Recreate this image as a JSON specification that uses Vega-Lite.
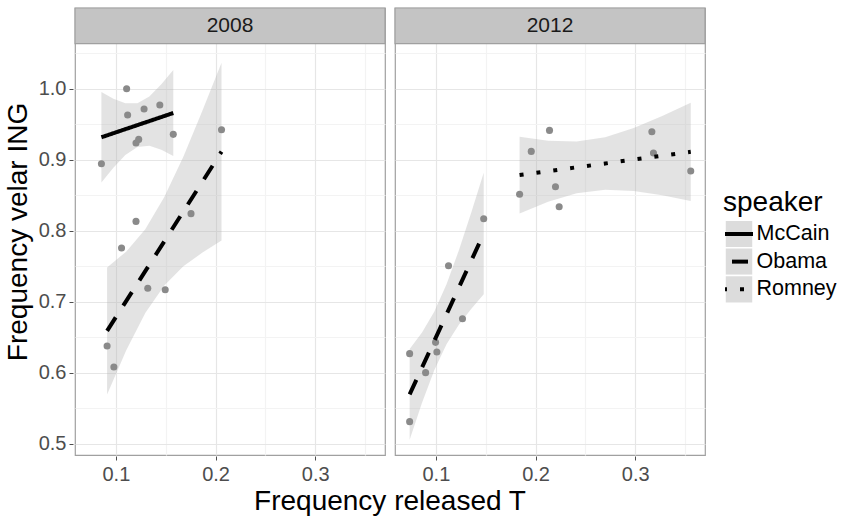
{
  "$schema": "https://vega.github.io/schema/vega-lite/v6.json",
  "padding": {"left": 4, "top": 6, "right": 0, "bottom": 0},
  "center": true,
  "spacing": 16,
  "config": {
    "font": "Liberation Sans",
    "view": {"stroke": "#a0a0a0", "strokeWidth": 1.2},
    "axis": {
      "labelFontSize": 20, "titleFontSize": 28, "titleFontWeight": "normal",
      "labelColor": "#4d4d4d", "titleColor": "#000000", "tickColor": "#4d4d4d",
      "tickSize": 4, "domain": false, "labelFont": "Liberation Sans", "titleFont": "Liberation Sans"
    }
  },
  "hconcat": [
    {
      "data": {"values": [
        {"year": "2008", "kind": "strip"},
        {"year": "2012", "kind": "strip"},
        {"year": "2008", "speaker": "McCain", "kind": "point", "x": 0.0855, "y": 0.8944},
        {"year": "2008", "speaker": "McCain", "kind": "point", "x": 0.1108, "y": 1.0},
        {"year": "2008", "speaker": "McCain", "kind": "point", "x": 0.1118, "y": 0.9629},
        {"year": "2008", "speaker": "McCain", "kind": "point", "x": 0.1283, "y": 0.9714},
        {"year": "2008", "speaker": "McCain", "kind": "point", "x": 0.1441, "y": 0.977},
        {"year": "2008", "speaker": "McCain", "kind": "point", "x": 0.1202, "y": 0.9235},
        {"year": "2008", "speaker": "McCain", "kind": "point", "x": 0.1229, "y": 0.9286},
        {"year": "2008", "speaker": "McCain", "kind": "point", "x": 0.1576, "y": 0.9357},
        {"year": "2008", "speaker": "Obama", "kind": "point", "x": 0.1057, "y": 0.7756},
        {"year": "2008", "speaker": "Obama", "kind": "point", "x": 0.1202, "y": 0.8131},
        {"year": "2008", "speaker": "Obama", "kind": "point", "x": 0.132, "y": 0.7188},
        {"year": "2008", "speaker": "Obama", "kind": "point", "x": 0.1495, "y": 0.7169},
        {"year": "2008", "speaker": "Obama", "kind": "point", "x": 0.0912, "y": 0.6376},
        {"year": "2008", "speaker": "Obama", "kind": "point", "x": 0.098, "y": 0.608},
        {"year": "2008", "speaker": "Obama", "kind": "point", "x": 0.1754, "y": 0.824},
        {"year": "2008", "speaker": "Obama", "kind": "point", "x": 0.206, "y": 0.9423},
        {"year": "2012", "speaker": "Obama", "kind": "point", "x": 0.0737, "y": 0.6268},
        {"year": "2012", "speaker": "Obama", "kind": "point", "x": 0.0737, "y": 0.531},
        {"year": "2012", "speaker": "Obama", "kind": "point", "x": 0.0897, "y": 0.6},
        {"year": "2012", "speaker": "Obama", "kind": "point", "x": 0.0997, "y": 0.6427},
        {"year": "2012", "speaker": "Obama", "kind": "point", "x": 0.101, "y": 0.6291},
        {"year": "2012", "speaker": "Obama", "kind": "point", "x": 0.1127, "y": 0.7507},
        {"year": "2012", "speaker": "Obama", "kind": "point", "x": 0.1267, "y": 0.676},
        {"year": "2012", "speaker": "Obama", "kind": "point", "x": 0.148, "y": 0.8169},
        {"year": "2012", "speaker": "Romney", "kind": "point", "x": 0.184, "y": 0.8512},
        {"year": "2012", "speaker": "Romney", "kind": "point", "x": 0.1957, "y": 0.9117},
        {"year": "2012", "speaker": "Romney", "kind": "point", "x": 0.214, "y": 0.9413},
        {"year": "2012", "speaker": "Romney", "kind": "point", "x": 0.22, "y": 0.862},
        {"year": "2012", "speaker": "Romney", "kind": "point", "x": 0.2237, "y": 0.8338},
        {"year": "2012", "speaker": "Romney", "kind": "point", "x": 0.3167, "y": 0.9394},
        {"year": "2012", "speaker": "Romney", "kind": "point", "x": 0.3183, "y": 0.9094},
        {"year": "2012", "speaker": "Romney", "kind": "point", "x": 0.3557, "y": 0.884},
        {"year": "2008", "speaker": "McCain", "kind": "fit", "x": 0.0855, "y": 0.9316, "lo": 0.868, "hi": 0.9952},
        {"year": "2008", "speaker": "McCain", "kind": "fit", "x": 0.0975, "y": 0.9373, "lo": 0.8887, "hi": 0.9859},
        {"year": "2008", "speaker": "McCain", "kind": "fit", "x": 0.1095, "y": 0.943, "lo": 0.9065, "hi": 0.9795},
        {"year": "2008", "speaker": "McCain", "kind": "fit", "x": 0.1216, "y": 0.9487, "lo": 0.9179, "hi": 0.9795},
        {"year": "2008", "speaker": "McCain", "kind": "fit", "x": 0.1336, "y": 0.9544, "lo": 0.9196, "hi": 0.9892},
        {"year": "2008", "speaker": "McCain", "kind": "fit", "x": 0.1456, "y": 0.9601, "lo": 0.914, "hi": 1.0062},
        {"year": "2008", "speaker": "McCain", "kind": "fit", "x": 0.1576, "y": 0.9658, "lo": 0.9051, "hi": 1.0265},
        {"year": "2008", "speaker": "Obama", "kind": "fit", "x": 0.0912, "y": 0.6588, "lo": 0.5693, "hi": 0.7483},
        {"year": "2008", "speaker": "Obama", "kind": "fit", "x": 0.1103, "y": 0.7008, "lo": 0.6311, "hi": 0.7705},
        {"year": "2008", "speaker": "Obama", "kind": "fit", "x": 0.1295, "y": 0.743, "lo": 0.684, "hi": 0.802},
        {"year": "2008", "speaker": "Obama", "kind": "fit", "x": 0.1486, "y": 0.785, "lo": 0.7227, "hi": 0.8473},
        {"year": "2008", "speaker": "Obama", "kind": "fit", "x": 0.1677, "y": 0.827, "lo": 0.7498, "hi": 0.9042},
        {"year": "2008", "speaker": "Obama", "kind": "fit", "x": 0.1869, "y": 0.8692, "lo": 0.7692, "hi": 0.9692},
        {"year": "2008", "speaker": "Obama", "kind": "fit", "x": 0.206, "y": 0.9113, "lo": 0.786, "hi": 1.0366},
        {"year": "2012", "speaker": "Obama", "kind": "fit", "x": 0.0737, "y": 0.5694, "lo": 0.5055, "hi": 0.6333},
        {"year": "2012", "speaker": "Obama", "kind": "fit", "x": 0.0861, "y": 0.6072, "lo": 0.5577, "hi": 0.6567},
        {"year": "2012", "speaker": "Obama", "kind": "fit", "x": 0.0985, "y": 0.645, "lo": 0.6039, "hi": 0.6861},
        {"year": "2012", "speaker": "Obama", "kind": "fit", "x": 0.1108, "y": 0.6825, "lo": 0.6402, "hi": 0.7248},
        {"year": "2012", "speaker": "Obama", "kind": "fit", "x": 0.1232, "y": 0.7203, "lo": 0.6677, "hi": 0.7729},
        {"year": "2012", "speaker": "Obama", "kind": "fit", "x": 0.1356, "y": 0.7581, "lo": 0.6902, "hi": 0.826},
        {"year": "2012", "speaker": "Obama", "kind": "fit", "x": 0.148, "y": 0.7959, "lo": 0.7103, "hi": 0.8815},
        {"year": "2012", "speaker": "Romney", "kind": "fit", "x": 0.184, "y": 0.8783, "lo": 0.8243, "hi": 0.9323},
        {"year": "2012", "speaker": "Romney", "kind": "fit", "x": 0.2126, "y": 0.8838, "lo": 0.8408, "hi": 0.9268},
        {"year": "2012", "speaker": "Romney", "kind": "fit", "x": 0.2412, "y": 0.8893, "lo": 0.8528, "hi": 0.9258},
        {"year": "2012", "speaker": "Romney", "kind": "fit", "x": 0.2699, "y": 0.8947, "lo": 0.8577, "hi": 0.9317},
        {"year": "2012", "speaker": "Romney", "kind": "fit", "x": 0.2985, "y": 0.9002, "lo": 0.8559, "hi": 0.9445},
        {"year": "2012", "speaker": "Romney", "kind": "fit", "x": 0.3271, "y": 0.9056, "lo": 0.8498, "hi": 0.9614},
        {"year": "2012", "speaker": "Romney", "kind": "fit", "x": 0.3557, "y": 0.9111, "lo": 0.8418, "hi": 0.9804}
      ]},
      "facet": {"column": {
        "field": "year", "type": "nominal", "title": "Frequency released T",
        "header": {"labels": false, "titleOrient": "bottom", "titleFontSize": 28, "titleFontWeight": "normal", "titleColor": "#000000", "titleFont": "Liberation Sans", "titlePadding": -6}
      }},
      "spacing": {"column": 6},
      "spec": {
        "width": 310,
        "height": 447,
        "layer": [
          {
            "transform": [{"filter": "datum.kind == 'fit'"}],
            "mark": {"type": "area", "fill": "#b0b0b0", "opacity": 0.35},
            "encoding": {
              "x": {
                "field": "x", "type": "quantitative",
                "scale": {"domain": [0.059, 0.37], "nice": false, "zero": false},
                "axis": {
                  "title": null,
                  "values": [0.1, 0.15, 0.2, 0.25, 0.3, 0.35],
                  "labelExpr": "round(datum.value*100) % 10 == 0 ? format(datum.value, '.1f') : ''",
                  "tickOpacity": {"condition": {"test": "round(datum.value*100) % 10 != 0", "value": 0}, "value": 1},
                  "gridColor": {"condition": {"test": "round(datum.value*100) % 10 != 0", "value": "#f3f3f3"}, "value": "#e6e6e6"},
                  "gridWidth": 1.2,
                  "labelPadding": 4
                }
              },
              "y": {
                "field": "lo", "type": "quantitative",
                "scale": {"domain": [0.484, 1.1137], "nice": false, "zero": false},
                "axis": {
                  "title": "Frequency velar ING",
                  "values": [0.5, 0.55, 0.6, 0.65, 0.7, 0.75, 0.8, 0.85, 0.9, 0.95, 1.0, 1.05],
                  "labelExpr": "round(datum.value*100) % 10 == 0 ? format(datum.value, '.1f') : ''",
                  "tickOpacity": {"condition": {"test": "round(datum.value*100) % 10 != 0", "value": 0}, "value": 1},
                  "gridColor": {"condition": {"test": "round(datum.value*100) % 10 != 0", "value": "#f3f3f3"}, "value": "#e6e6e6"},
                  "gridWidth": 1.2,
                  "labelPadding": 3,
                  "titlePadding": 6
                }
              },
              "y2": {"field": "hi"},
              "detail": {"field": "speaker"}
            }
          },
          {
            "transform": [{"filter": "datum.kind == 'point'"}],
            "mark": {"type": "circle", "color": "#8a8a8a", "size": 50, "opacity": 1},
            "encoding": {
              "x": {"field": "x", "type": "quantitative"},
              "y": {"field": "y", "type": "quantitative"}
            }
          },
          {
            "transform": [{"filter": "datum.kind == 'fit'"}],
            "mark": {"type": "line", "color": "#000000", "strokeWidth": 4, "strokeCap": "butt"},
            "encoding": {
              "x": {"field": "x", "type": "quantitative"},
              "y": {"field": "y", "type": "quantitative"},
              "strokeDash": {
                "field": "speaker", "type": "nominal",
                "scale": {"domain": ["McCain", "Obama", "Romney"], "range": [[1, 0], [16, 14], [4, 13]]},
                "legend": null
              }
            }
          },
          {
            "transform": [{"filter": "datum.kind == 'strip'"}],
            "mark": {"type": "rect", "fill": "#c4c4c4", "stroke": "#a0a0a0", "strokeWidth": 1.2},
            "encoding": {"y": {"datum": 1.0634}, "y2": {"datum": 1.1137}}
          },
          {
            "transform": [{"filter": "datum.kind == 'strip'"}],
            "mark": {"type": "text", "fontSize": 21, "color": "#1a1a1a", "baseline": "middle", "align": "center"},
            "encoding": {"y": {"datum": 1.0885}, "text": {"field": "year"}}
          }
        ]
      }
    },
    {
      "data": {"values": [
        {"speaker": "McCain"},
        {"speaker": "Obama"},
        {"speaker": "Romney"}
      ]},
      "width": 28,
      "height": 83,
      "view": {"stroke": null},
      "title": {"text": "speaker", "anchor": "start", "fontSize": 28, "fontWeight": "normal", "color": "#000000", "offset": 2, "font": "Liberation Sans"},
      "encoding": {
        "y": {
          "field": "speaker", "type": "nominal",
          "scale": {"domain": ["McCain", "Obama", "Romney"], "paddingInner": 0, "paddingOuter": 0},
          "axis": {"orient": "right", "title": null, "ticks": false, "domain": false, "grid": false, "labelPadding": 3, "labelColor": "#000000", "labelFontSize": 21.5}
        }
      },
      "layer": [
        {
          "mark": {"type": "rect", "fill": "#dcdcdc", "stroke": "#ffffff", "strokeWidth": 1.5}
        },
        {
          "mark": {"type": "rule", "color": "#000000", "strokeWidth": 4, "strokeCap": "butt", "strokeDashOffset": 25},
          "encoding": {
            "y": {"field": "speaker", "type": "nominal", "bandPosition": 0.5},
            "strokeDash": {
              "field": "speaker", "type": "nominal",
              "scale": {"domain": ["McCain", "Obama", "Romney"], "range": [[22, 6], [22, 6], [4, 14, 4, 6]]},
              "legend": null
            }
          }
        }
      ]
    }
  ]
}
